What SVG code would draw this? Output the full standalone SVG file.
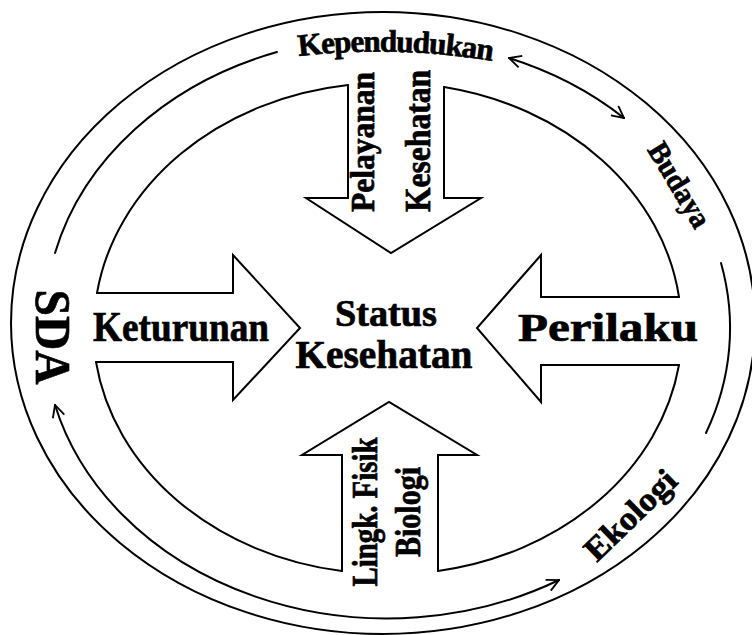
<svg xmlns="http://www.w3.org/2000/svg" width="752" height="635" viewBox="0 0 752 635">
<defs>
<style>
.ln{fill:none;stroke:#000;stroke-width:2;stroke-linejoin:miter;stroke-linecap:round}
.t{font-family:"Liberation Serif","Times New Roman",serif;font-weight:bold;fill:#000;stroke:#000;stroke-width:0.7}
</style>
<marker id="chev" viewBox="0 0 14 14" refX="13" refY="7" markerWidth="14" markerHeight="14" markerUnits="userSpaceOnUse" orient="auto-start-reverse">
<path d="M1,1 L13,7 L1,13" fill="none" stroke="#000" stroke-width="1.8"/>
</marker>
</defs>
<rect width="752" height="635" fill="#fff"/>

<g id="outer-ring">
<ellipse class="ln" cx="383" cy="323" rx="372" ry="311"/>
</g>

<g id="connectors">
<path class="ln" d="M55,253 A343,285 0 0 1 277,52"/>
<path class="ln" d="M509,58 A343,285 0 0 1 624,118" marker-start="url(#chev)" marker-end="url(#chev)"/>
<path class="ln" d="M721,263 A343,285 0 0 1 706,433"/>
<path class="ln" d="M55,405 A343,285 0 0 0 559,580" marker-start="url(#chev)" marker-end="url(#chev)"/>
</g>

<g id="inner-boundary">
<path class="ln" d="M97,293 A292,246 0 0 1 348,85"/>
<path class="ln" d="M444,87 A292,246 0 0 1 679,297"/>
<path class="ln" d="M679,365 A292,246 0 0 1 438,571"/>
<path class="ln" d="M342,571 A292,246 0 0 1 96,362"/>
</g>

<g id="node-keturunan">
<path class="ln" d="M97,293 L233,293 L233,255 L300,328 L233,400 L233,362 L96,362"/>
<text class="t" x="93" y="341" font-size="42" textLength="176" lengthAdjust="spacingAndGlyphs">Keturunan</text>
</g>

<g id="node-pelayanan">
<path class="ln" d="M348,85 L348,198 L306,198 L391,253 L481,198 L444,198 L444,87"/>
<text class="t" font-size="34" text-anchor="middle" textLength="140" lengthAdjust="spacingAndGlyphs" transform="translate(374,142) rotate(-90)">Pelayanan</text>
<text class="t" font-size="36" text-anchor="middle" textLength="142" lengthAdjust="spacingAndGlyphs" transform="translate(430,141) rotate(-90)">Kesehatan</text>
</g>

<g id="node-perilaku">
<path class="ln" d="M679,297 L541,297 L541,255 L477,328 L541,402 L541,365 L679,365"/>
<text class="t" x="518" y="341" font-size="40" textLength="180" lengthAdjust="spacingAndGlyphs">Perilaku</text>
</g>

<g id="node-lingkungan">
<path class="ln" d="M342,571 L342,455 L302,455 L389,402 L477,455 L438,455 L438,571"/>
<text class="t" font-size="35" text-anchor="middle" textLength="149" lengthAdjust="spacingAndGlyphs" transform="translate(377,512) rotate(-90)">Lingk. Fisik</text>
<text class="t" font-size="35" text-anchor="middle" textLength="90" lengthAdjust="spacingAndGlyphs" transform="translate(420,512) rotate(-90)">Biologi</text>
</g>

<g id="node-status">
<text class="t" x="386" y="326" font-size="38" text-anchor="middle" textLength="102" lengthAdjust="spacingAndGlyphs">Status</text>
<text class="t" x="384" y="368" font-size="40" text-anchor="middle" textLength="177" lengthAdjust="spacingAndGlyphs">Kesehatan</text>
</g>

<g id="node-kependudukan">
<path id="kpath" d="M292,57 Q394,44 498,62" fill="none"/>
<text class="t" font-size="31" letter-spacing="-1"><textPath href="#kpath" startOffset="50%" text-anchor="middle">Kependudukan</textPath></text>
</g>

<g id="node-budaya">
<text class="t" font-size="30" text-anchor="middle" textLength="94" lengthAdjust="spacingAndGlyphs" transform="translate(671,190) rotate(59)">Budaya</text>
</g>

<g id="node-sda">
<text class="t" font-size="50" text-anchor="middle" textLength="95" lengthAdjust="spacingAndGlyphs" transform="translate(36,337) rotate(90)">SDA</text>
</g>

<g id="node-ekologi">
<text class="t" font-size="33" text-anchor="middle" textLength="115" lengthAdjust="spacingAndGlyphs" transform="translate(638,523) rotate(-44)">Ekologi</text>
</g>
</svg>
